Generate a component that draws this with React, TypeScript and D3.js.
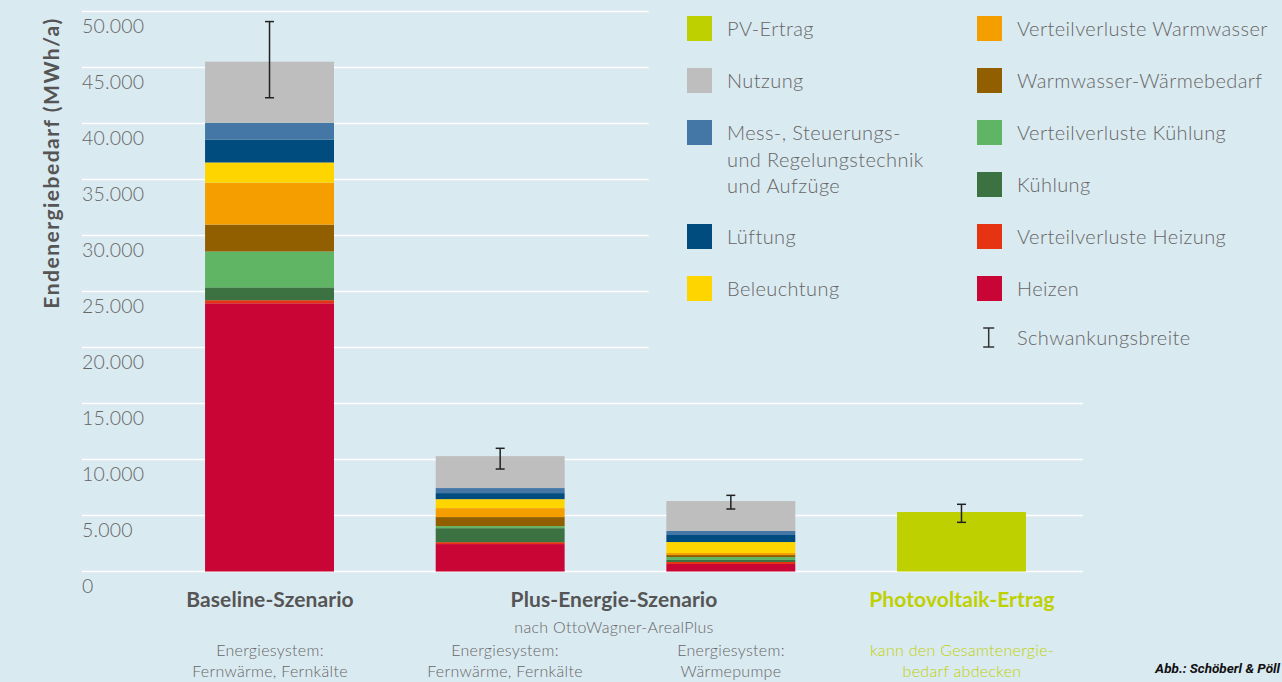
import React from "react";
import * as d3 from "d3";

// ---------- data ----------
const barKeys = ["baseline", "plusFern", "plusWP", "pv"];
const heizen = [23950, 2450, 670, 0];
const vvHeizung = [270, 170, 180, 0];
const kuehlung = [1150, 1250, 180, 0];
const vvKuehlung = [3200, 180, 260, 0];
const warmwasser = [2400, 810, 180, 0];
const vvWarmwasser = [3750, 800, 180, 0];
const beleuchtung = [1800, 800, 980, 0];
const lueftung = [2050, 540, 630, 0];
const msr = [1500, 450, 360, 0];
const nutzung = [5450, 2850, 2670, 0];
const pvErtrag = [0, 0, 0, 5310];
const errLow = [42300, 9150, 5580, 4390];
const errHigh = [49100, 11000, 6800, 6000];
const yTicks = [0, 5000, 10000, 15000, 20000, 25000, 30000, 35000, 40000, 45000, 50000];

const seriesKeys = ["heizen", "vvHeizung", "kuehlung", "vvKuehlung", "warmwasser", "vvWarmwasser", "beleuchtung", "lueftung", "msr", "nutzung", "pvErtrag"];
const seriesValues = [heizen, vvHeizung, kuehlung, vvKuehlung, warmwasser, vvWarmwasser, beleuchtung, lueftung, msr, nutzung, pvErtrag];
const seriesColors = ["#C90535", "#E63312", "#3C7141", "#5FB564", "#925F00", "#F49E00", "#FFD500", "#004C7E", "#4476A6", "#BEBEBE", "#BED000"];

const legendCol1 = [
  { label: ["PV-Ertrag"], color: "#BED000" },
  { label: ["Nutzung"], color: "#BEBEBE" },
  { label: ["Mess-, Steuerungs-", "und Regelungstechnik", "und Aufzüge"], color: "#4476A6" },
  { label: ["Lüftung"], color: "#004C7E" },
  { label: ["Beleuchtung"], color: "#FFD500" },
];
const legendCol2 = [
  { label: ["Verteilverluste Warmwasser"], color: "#F49E00" },
  { label: ["Warmwasser-Wärmebedarf"], color: "#925F00" },
  { label: ["Verteilverluste Kühlung"], color: "#5FB564" },
  { label: ["Kühlung"], color: "#3C7141" },
  { label: ["Verteilverluste Heizung"], color: "#E63312" },
  { label: ["Heizen"], color: "#C90535" },
];

// ---------- layout ----------
const W = 1282;
const H = 682;
const BG = "#DAEAF1";
const TEXT = "#666666";
const GREEN = "#BED000";
const LIGHT = "Lato, 'Open Sans', sans-serif";

export default function App() {
  const y = d3.scaleLinear().domain([0, 50000]).range([571.5, 11.5]);
  const x = d3.scaleBand().domain(barKeys).range([154.2, 1076.8]).paddingInner(0.441).paddingOuter(0.2205);

  const rows = barKeys.map((k, i) => {
    const r: any = { key: k };
    seriesKeys.forEach((s, j) => (r[s] = seriesValues[j][i]));
    return r;
  });
  const stacked = d3.stack().keys(seriesKeys)(rows);
  const locale = d3.formatLocale({ decimal: ",", thousands: ".", grouping: [3], currency: ["", "€"] });
  const fmt = locale.format(",d");

  const small = { fontWeight: 300, fontSize: 16, letterSpacing: 0.3 } as const;
  const bold = { fontWeight: 700, fontSize: 21, letterSpacing: 0.1 } as const;

  return (
    <svg width={W} height={H} style={{ position: "absolute", left: 0, top: 0, display: "block" }}>
      <rect x={0} y={0} width={W} height={H} fill={BG} />
      {/* gridlines */}
      {yTicks.map((t) => (
        <line key={t} x1={82} x2={y(t) < 360 ? 648.7 : 1083} y1={y(t)} y2={y(t)} stroke="#FFFFFF" strokeWidth={1.5} />
      ))}
      {/* tick labels */}
      {yTicks.map((t) => (
        <text key={"l" + t} x={82} y={y(t) + 21.5} fontFamily={LIGHT} fontWeight={300} fontSize={19.5} letterSpacing={0.2} fill={TEXT}>
          {fmt(t)}
        </text>
      ))}
      {/* y title */}
      <text
        transform={`translate(59,163) rotate(-90)`}
        textAnchor="middle"
        fontFamily={LIGHT}
        fontWeight={700}
        fontSize={21}
        letterSpacing={1.5}
        fill="#555555"
      >
        Endenergiebedarf (MWh/a)
      </text>
      {/* bars */}
      {stacked.map((s, j) => (
        <g key={s.key} fill={seriesColors[j]}>
          {s.map((d, i) =>
            d[1] - d[0] > 0 ? (
              <rect key={i} x={x(barKeys[i])} width={x.bandwidth()} y={y(d[1])} height={y(d[0]) - y(d[1])} />
            ) : null
          )}
        </g>
      ))}
      {/* error bars */}
      {barKeys.map((k, i) => {
        const cx = (x(k) as number) + x.bandwidth() / 2;
        return (
          <g key={"e" + k} stroke="#222" strokeWidth={1.5}>
            <line x1={cx} x2={cx} y1={y(errLow[i])} y2={y(errHigh[i])} />
            <line x1={cx - 4.5} x2={cx + 4.5} y1={y(errLow[i])} y2={y(errLow[i])} />
            <line x1={cx - 4.5} x2={cx + 4.5} y1={y(errHigh[i])} y2={y(errHigh[i])} />
          </g>
        );
      })}
      {/* legend */}
      {legendCol1.map((l, i) => {
        const top = 16 + i * 52 + (i >= 3 ? 52 : 0);
        return (
          <g key={"lg1" + i}>
            <rect x={687} y={top} width={25} height={25} fill={l.color} />
            {l.label.map((t, li) => (
              <text key={li} x={727} y={top + 20 + li * 26.5} fontFamily={LIGHT} fontWeight={300} fontSize={20} letterSpacing={0.4} fill={TEXT}>
                {t}
              </text>
            ))}
          </g>
        );
      })}
      {legendCol2.map((l, i) => {
        const top = 16 + i * 52;
        return (
          <g key={"lg2" + i}>
            <rect x={977} y={top} width={25} height={25} fill={l.color} />
            <text x={1017} y={top + 20} fontFamily={LIGHT} fontWeight={300} fontSize={20} letterSpacing={0.4} fill={TEXT}>
              {l.label[0]}
            </text>
          </g>
        );
      })}
      <g stroke="#333" strokeWidth={1.5}>
        <line x1={988.7} x2={988.7} y1={328} y2={347} />
        <line x1={983.2} x2={994.2} y1={328} y2={328} />
        <line x1={983.2} x2={994.2} y1={347} y2={347} />
      </g>
      <text x={1017} y={345} fontFamily={LIGHT} fontWeight={300} fontSize={20} letterSpacing={0.4} fill={TEXT}>
        Schwankungsbreite
      </text>
      {/* category labels */}
      <g fontFamily={LIGHT} textAnchor="middle">
        <text x={270} y={607} {...bold} fill="#555555">Baseline-Szenario</text>
        <text x={614} y={607} {...bold} fill="#555555">Plus-Energie-Szenario</text>
        <text x={962} y={607} {...bold} fill={GREEN}>Photovoltaik-Ertrag</text>
        <text x={614} y={633} {...small} fill={TEXT}>nach OttoWagner-ArealPlus</text>
        <text x={270} y={656} {...small} fill={TEXT}>Energiesystem:</text>
        <text x={270} y={677} {...small} fill={TEXT}>Fernwärme, Fernkälte</text>
        <text x={505} y={656} {...small} fill={TEXT}>Energiesystem:</text>
        <text x={505} y={677} {...small} fill={TEXT}>Fernwärme, Fernkälte</text>
        <text x={731} y={656} {...small} fill={TEXT}>Energiesystem:</text>
        <text x={731} y={677} {...small} fill={TEXT}>Wärmepumpe</text>
        <text x={962} y={656} {...small} fill={GREEN}>kann den Gesamtenergie-</text>
        <text x={962} y={677} {...small} fill={GREEN}>bedarf abdecken</text>
      </g>
      <text x={1280} y={673} textAnchor="end" fontFamily="'Liberation Sans Narrow', 'Roboto', sans-serif" fontWeight={700} fontStyle="italic" fontSize={13.5} fill="#111">
        Abb.: Schöberl &amp; Pöll
      </text>
    </svg>
  );
}
